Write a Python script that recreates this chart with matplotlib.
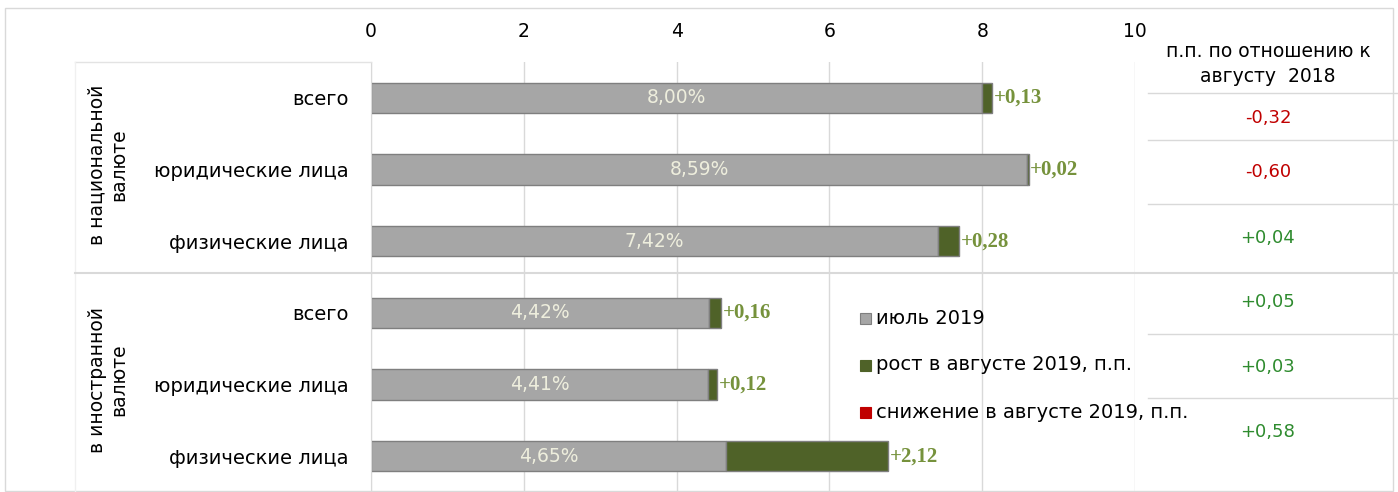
import matplotlib
matplotlib.use("Agg")
import matplotlib.pyplot as plt
from matplotlib.lines import Line2D
from matplotlib.patches import Rectangle
import numpy as np

plt.rcParams['font.family'] = ['DejaVu Sans']

categories = ["всего", "юридические лица", "физические лица",
              "всего", "юридические лица", "физические лица"]
groups = ["в национальной\nвалюте", "в иностранной\nвалюте"]
july_2019 = [8.00, 8.59, 7.42, 4.42, 4.41, 4.65]
change_aug = [0.13, 0.02, 0.28, 0.16, 0.12, 2.12]
vs_aug_2018 = [-0.32, -0.60, 0.04, 0.05, 0.03, 0.58]
legend_labels = ["июль 2019", "рост в августе 2019, п.п.", "снижение в августе 2019, п.п."]
table_header = "п.п. по отношению к\nавгусту  2018"

W, H = 1398, 492
fig = plt.figure(figsize=(W / 100, H / 100), dpi=100)

def fx(px):
    return px / W

def fy(py):
    return 1 - py / H

ax = fig.add_axes([fx(371), 0.0, fx(1135) - fx(371), fy(62)])

gray = "#a6a6a6"
green = "#4f6228"
red = "#c00000"
edge = "#7f7f7f"

y = np.arange(len(categories))
ax.barh(y, july_2019, height=0.42, color=gray, edgecolor=edge, linewidth=1)
ax.barh(y, change_aug, left=july_2019, height=0.42, color=green, edgecolor=edge, linewidth=1)

for i in range(len(y)):
    ax.text(july_2019[i] / 2, y[i], f"{july_2019[i]:.2f}%".replace(".", ","),
            ha="center", va="center", color="#eeeedd", fontsize=13.5)
    ax.text(july_2019[i] + change_aug[i] + 0.02, y[i], f"+{change_aug[i]:.2f}".replace(".", ","),
            ha="left", va="center", color="#76923c", fontsize=15, fontweight="bold",
            family="Liberation Serif")

ax.set_xlim(0, 10)
ax.set_ylim(5.5, -0.5)
ax.xaxis.tick_top()
ax.set_xticks([0, 2, 4, 6, 8, 10])
ax.tick_params(axis="x", length=0, labelsize=13.5, pad=15)
ax.set_yticks(y)
ax.set_yticklabels(categories, fontsize=14)
ax.tick_params(axis="y", length=0, pad=16)
ax.grid(axis="x", color="#d9d9d9", linewidth=1)
ax.set_axisbelow(True)
for s in ["top", "right", "bottom"]:
    ax.spines[s].set_visible(False)
ax.spines["left"].set_color("#d9d9d9")

# outer frame and group box lines
fig.add_artist(Rectangle((fx(5), fy(491)), fx(1393) - fx(5), fy(8) - fy(491),
                         fill=False, edgecolor="#d9d9d9", linewidth=1, transform=fig.transFigure))
fig.add_artist(Line2D([fx(75), fx(371)], [fy(62), fy(62)], color="#e3e3e3", lw=1))
fig.add_artist(Line2D([fx(75), fx(75)], [fy(62), fy(491)], color="#f0f0f0", lw=1))
fig.add_artist(Line2D([fx(75), fx(1398)], [fy(273), fy(273)], color="#d9d9d9", lw=1.5))

fig.text(fx(108), fy(165), groups[0], rotation=90, ha="center", va="center",
         fontsize=13.5, linespacing=1.15)
fig.text(fx(108), fy(380), groups[1], rotation=90, ha="center", va="center",
         fontsize=13.5, linespacing=1.15)

# legend
leg_y = [318, 365, 412]
for lab, col, ly in zip(legend_labels, [gray, green, red], leg_y):
    fig.add_artist(Rectangle((fx(860), fy(ly + 6)), fx(11), fy(0) - fy(11), facecolor=col,
                             edgecolor="#7f7f7f" if col == gray else col, lw=0.8,
                             transform=fig.transFigure))
    fig.text(fx(876), fy(ly), lab, ha="left", va="center", fontsize=14)

# table on the right
fig.text(fx(1268), fy(64), table_header, ha="center", va="center", fontsize=13.5,
         linespacing=1.35)
for ly in [93, 140, 204, 334, 398]:
    fig.add_artist(Line2D([fx(1148), fx(1398)], [fy(ly), fy(ly)], color="#d9d9d9", lw=1))
row_y = [118, 172, 238, 302, 367, 432]
for v, ry in zip(vs_aug_2018, row_y):
    txt = (f"{v:+.2f}").replace(".", ",")
    fig.text(fx(1268), fy(ry), txt, ha="center", va="center", fontsize=13,
             color=red if v < 0 else "#2e8b2e")

fig.savefig("out.png", dpi=100)
